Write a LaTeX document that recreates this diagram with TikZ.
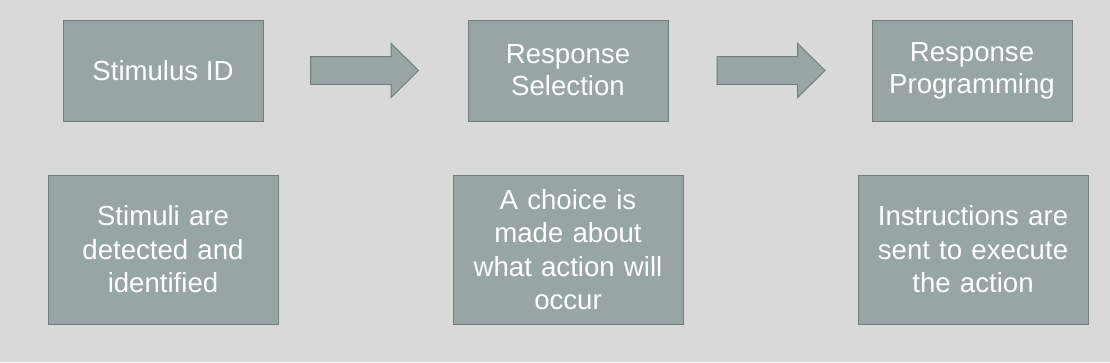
\documentclass[tikz,border=0pt]{standalone}
\usepackage{fontspec}
\setmainfont{Liberation Sans}
\usetikzlibrary{shapes.arrows}
\definecolor{paper}{HTML}{D9D9D9}
\definecolor{slate}{HTML}{97A6A4}
\definecolor{slateline}{HTML}{6F7E7C}
\tikzset{
  basebox/.style={draw=slateline,fill=slate,text=white,align=center,line width=0.9pt,
    font=\fontsize{27.6}{32}\selectfont,inner sep=4pt},
  stagebox/.style={basebox,minimum width=200pt,minimum height=101pt},
  notebox/.style={basebox,minimum width=230pt,minimum height=149pt,text width=220pt,
    font=\fontsize{27.6}{33.5}\selectfont},
  blockarrow/.style={single arrow,draw=slateline,fill=slate,line width=0.9pt,
    minimum height=108pt,minimum width=53pt,inner sep=13.5pt,
    single arrow head extend=13pt,single arrow tip angle=89}
}
\begin{document}
\begin{tikzpicture}[x=1pt,y=-1pt]
  \fill[paper] (0,0) rectangle (1110,362);
  \useasboundingbox (0,0) rectangle (1110,362);
  % top row
  \node[stagebox] (stim) at (163,70.5) {Stimulus ID};
  \node[stagebox] (sel) at (568,70.5) {Response\\Selection};
  \node[stagebox] (prog) at (972,71) {Response\\Programming};
  \node[blockarrow] (arrA) at (357.5,70.5) {};
  \node[blockarrow] (arrB) at (764,70.5) {};
  % bottom row
  \node[notebox] (detect) at (163,249.5) {Stimuli are\\detected and\\identified};
  \node[notebox] (choice) at (568,249.5) {A choice is\\made about\\what action will\\occur};
  \node[notebox] (instr) at (973,249.5) {Instructions are\\sent to execute\\the action};
\end{tikzpicture}
\end{document}
